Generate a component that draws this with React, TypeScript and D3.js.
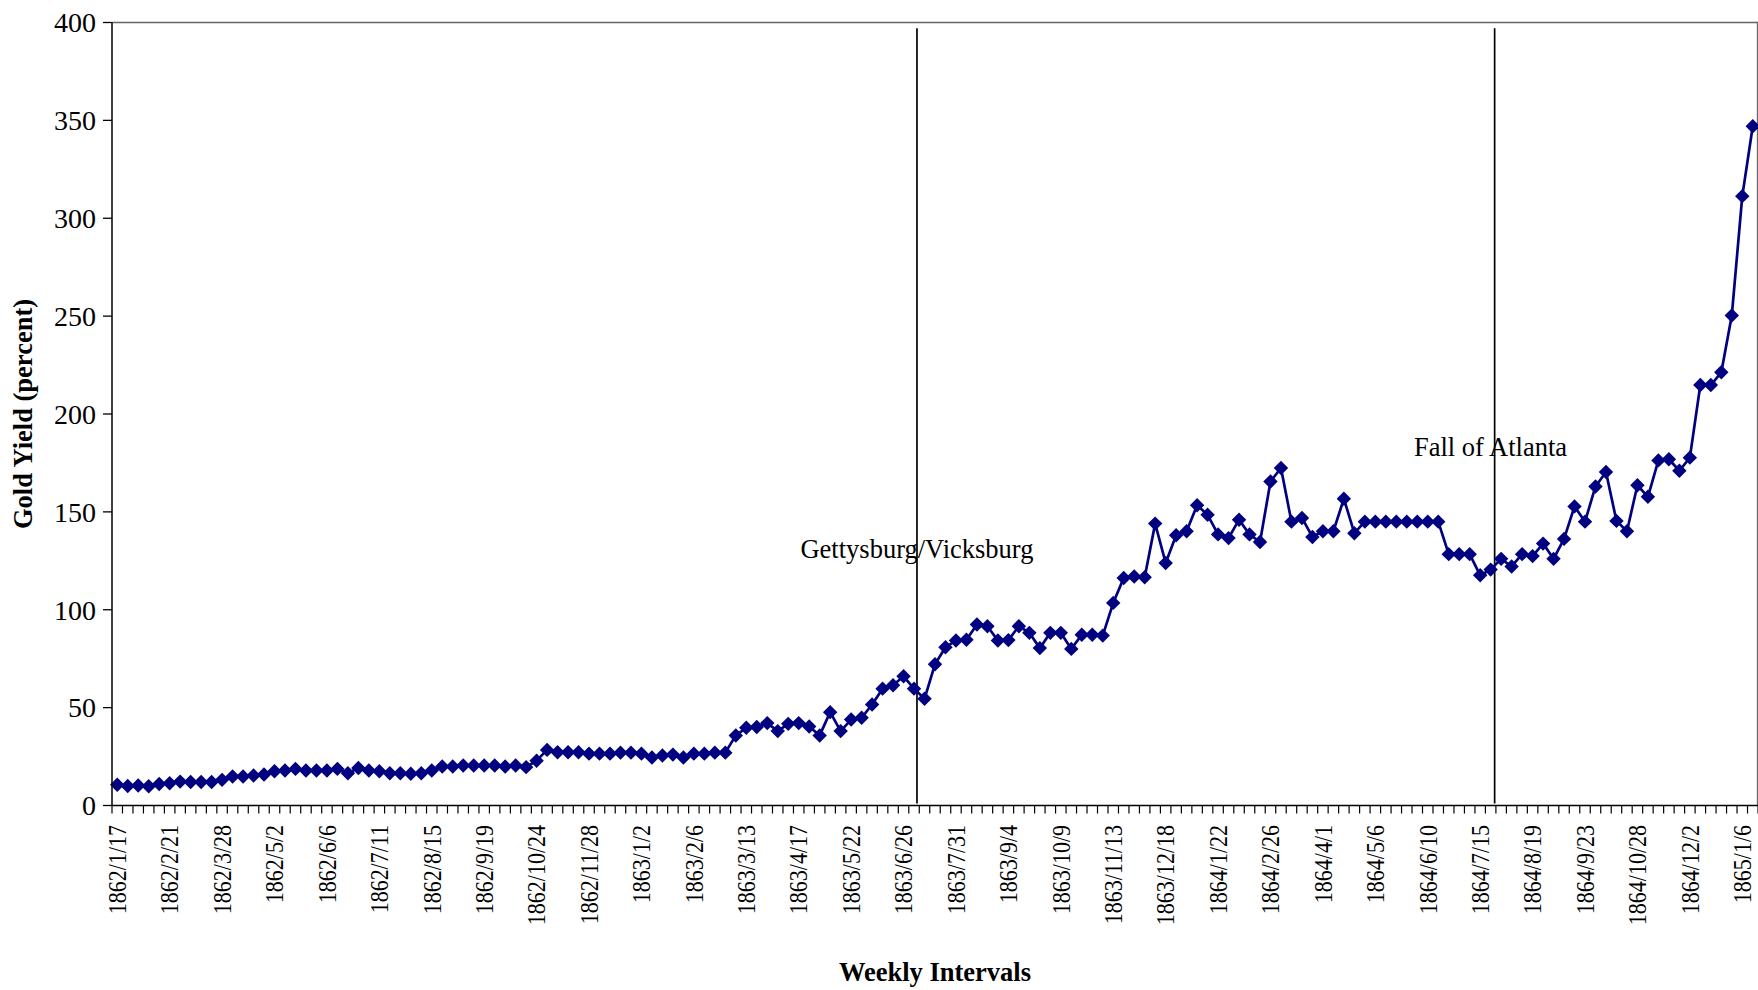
import React from 'react';
import * as d3 from 'd3';

// Tick labels shown every 5th weekly interval
const tickLabels = [
  '1862/1/17', '1862/2/21', '1862/3/28', '1862/5/2', '1862/6/6', '1862/7/11', '1862/8/15', '1862/9/19',
  '1862/10/24', '1862/11/28', '1863/1/2', '1863/2/6', '1863/3/13', '1863/4/17', '1863/5/22', '1863/6/26',
  '1863/7/31', '1863/9/4', '1863/10/9', '1863/11/13', '1863/12/18', '1864/1/22', '1864/2/26', '1864/4/1',
  '1864/5/6', '1864/6/10', '1864/7/15', '1864/8/19', '1864/9/23', '1864/10/28', '1864/12/2', '1865/1/6',
];
const tickEvery = 5;

// Weekly gold yield (percent)
const goldYield = [
  10.6, 10.0, 10.2, 9.8, 11.0, 11.4, 12.2, 12.0, 12.0, 12.0,
  13.1, 14.8, 14.8, 15.3, 15.8, 17.5, 17.9, 18.7, 17.9, 17.9,
  17.9, 18.7, 16.5, 19.2, 17.9, 17.5, 16.5, 16.5, 16.2, 16.5,
  17.9, 19.9, 19.9, 20.4, 20.4, 20.4, 20.4, 19.9, 20.4, 19.6,
  22.9, 28.4, 27.2, 27.2, 27.2, 26.5, 26.5, 26.5, 27.0, 27.0,
  26.5, 24.5, 25.5, 26.0, 24.5, 26.5, 26.5, 27.0, 27.0, 35.8,
  39.7, 40.1, 42.1, 38.0, 41.7, 42.1, 40.4, 35.8, 47.7, 38.0,
  43.9, 44.8, 51.6, 59.7, 61.4, 66.0, 59.7, 54.5, 72.2, 80.8,
  84.3, 84.7, 92.5, 91.6, 84.3, 84.5, 91.6, 88.2, 80.4, 88.2,
  88.2, 80.0, 87.2, 87.2, 86.8, 103.5, 116.2, 117.0, 116.6, 144.0,
  123.9, 138.1, 140.1, 153.4, 148.5, 138.5, 136.6, 146.0, 138.5, 134.6,
  165.5, 172.4, 145.0, 146.9, 137.2, 140.1, 140.1, 156.7, 139.1, 145.0,
  145.0, 145.0, 145.0, 145.0, 145.0, 145.0, 145.0, 128.4, 128.4, 128.4,
  117.6, 120.5, 126.0, 122.1, 128.4, 127.4, 133.8, 126.0, 136.2, 152.8,
  145.0, 163.0, 170.4, 145.4, 140.1, 163.6, 157.7, 176.3, 176.9, 171.0,
  177.7, 214.8, 214.8, 221.3, 250.3, 311.3, 347.0,
];

const yTicks = [0, 50, 100, 150, 200, 250, 300, 350, 400];

// Event markers: position in category units, label position in (category, value)
const events = [
  { label: 'Gettysburg/Vicksburg', at: 76.78, labelAt: 76.78, labelValue: 126.4 },
  { label: 'Fall of Atlanta', at: 131.88, labelAt: 131.49, labelValue: 178.5 },
];

const W = 1758;
const H = 990;
const PLOT = { left: 112, right: 1758, top: 22.5, bottom: 805.5 };
const FONT = '"Liberation Serif", "Times New Roman", Times, serif';

export default function App() {
  const n = goldYield.length;
  const idx = d3.range(n);
  const x = d3.scaleBand<number>().domain(idx).range([PLOT.left, PLOT.right]).paddingInner(0).paddingOuter(0);
  const xc = (i: number) => (x(i) as number) + x.bandwidth() / 2;
  const xLin = d3.scaleLinear().domain([0, n]).range([PLOT.left, PLOT.right]);
  const y = d3.scaleLinear().domain([0, 400]).range([PLOT.bottom, PLOT.top]);

  const line = d3.line<number>().x((_, i) => xc(i)).y((d) => y(d));
  const diamond = d3.symbol().type(d3.symbolSquare).size(104)() as string;

  return (
    <svg width={W} height={H} style={{ position: 'absolute', left: 0, top: 0, display: 'block', background: '#fff' }}>
      {/* plot border */}
      <line x1={PLOT.left} x2={PLOT.right} y1={PLOT.top} y2={PLOT.top} stroke="#666" strokeWidth={1.3} />
      <line x1={PLOT.right - 0.5} x2={PLOT.right - 0.5} y1={PLOT.top} y2={PLOT.bottom} stroke="#666" strokeWidth={1.3} />

      {/* event lines */}
      {events.map((e) => (
        <g key={e.label}>
          <line x1={xLin(e.at)} x2={xLin(e.at)} y1={y(397)} y2={y(1)} stroke="#000" strokeWidth={1.7} />
          <text x={xLin(e.labelAt)} y={y(e.labelValue)} textAnchor="middle" fontFamily={FONT} fontSize={26.5} fill="#000">
            {e.label}
          </text>
        </g>
      ))}

      {/* series */}
      <path d={line(goldYield) || ''} fill="none" stroke="#000080" strokeWidth={2.7} strokeLinejoin="round" />
      {goldYield.map((d, i) => (
        <path key={i} d={diamond} transform={`translate(${xc(i)},${y(d)}) rotate(45)`} fill="#000080" />
      ))}

      {/* y axis */}
      <line x1={PLOT.left} x2={PLOT.left} y1={PLOT.top} y2={PLOT.bottom} stroke="#000" strokeWidth={1.5} />
      {yTicks.map((t) => (
        <g key={t}>
          <line x1={PLOT.left - 9} x2={PLOT.left} y1={y(t)} y2={y(t)} stroke="#000" strokeWidth={1.3} />
          <text x={96} y={y(t)} dy="0.35em" textAnchor="end" fontFamily={FONT} fontSize={28} fill="#000">
            {t}
          </text>
        </g>
      ))}

      {/* x axis */}
      <line x1={PLOT.left} x2={PLOT.right} y1={PLOT.bottom} y2={PLOT.bottom} stroke="#000" strokeWidth={1.5} />
      {d3.range(n + 1).map((k) => (
        <line key={k} x1={xLin(k)} x2={xLin(k)} y1={PLOT.bottom} y2={PLOT.bottom + 8} stroke="#000" strokeWidth={1.2} />
      ))}
      {tickLabels.map((lab, k) => {
        const i = k * tickEvery;
        const cx = xc(i);
        const ty = 825;
        return (
          <text
            key={lab}
            transform={`translate(${cx},${ty}) rotate(-90) scale(0.88,1)`}
            dy="0.35em"
            textAnchor="end"
            fontFamily={FONT}
            fontSize={25}
            fill="#000"
          >
            {lab}
          </text>
        );
      })}

      {/* axis titles */}
      <text x={(PLOT.left + PLOT.right) / 2} y={981} textAnchor="middle" fontFamily={FONT} fontWeight="bold" fontSize={26.5} fill="#000">
        Weekly Intervals
      </text>
      <text
        transform={`translate(32,${(PLOT.top + PLOT.bottom) / 2}) rotate(-90)`}
        textAnchor="middle"
        fontFamily={FONT}
        fontWeight="bold"
        fontSize={26.5}
        fill="#000"
      >
        Gold Yield (percent)
      </text>
    </svg>
  );
}
